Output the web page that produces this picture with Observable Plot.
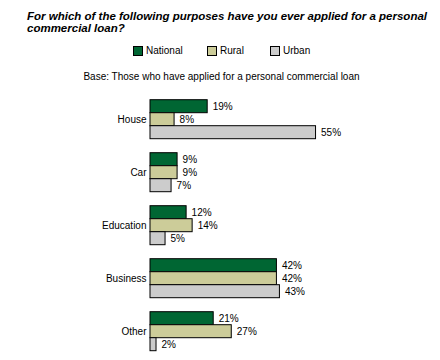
<!DOCTYPE html>
<html>
<head>
<meta charset="utf-8">
<script src="https://cdn.jsdelivr.net/npm/d3@7"></script>
<script src="https://cdn.jsdelivr.net/npm/@observablehq/plot@0.6"></script>
<style>
  html, body { margin: 0; padding: 0; background: #fff; }
  #wrap { position: relative; width: 440px; height: 360px; overflow: hidden; font-family: Arial, "Liberation Sans", sans-serif; color: #000; }
  .title { position: absolute; left: 27px; top: 10px; width: 405px; font-size: 11.5px; font-weight: bold; font-style: italic; line-height: 12px; }
  .legend { position: absolute; top: 45px; left: 0; font-size: 10px; }
  .item { position: absolute; white-space: nowrap; line-height: 12px; }
  .sw { position: absolute; top: 1px; width: 8px; height: 8px; border: 1px solid #000; }
  .base { position: absolute; top: 71px; left: 0; width: 443px; text-align: center; font-size: 10px; }
  #chart { position: absolute; left: 0; top: 88px; }
</style>
</head>
<body>
<div id="wrap">
  <div class="title">For which of the following purposes have you ever applied for a personal commercial loan?</div>
  <div class="legend" id="legend"></div>
  <div class="base">Base: Those who have applied for a personal commercial loan</div>
  <div id="chart"></div>
</div>
<script>
const categories = ["House", "Car", "Education", "Business", "Other"];
const series = ["National", "Rural", "Urban"];
const national = [19, 9, 12, 42, 21];
const rural = [8, 9, 14, 42, 27];
const urban = [55, 7, 5, 43, 2];
const colors = ["#006633", "#CCCC99", "#CCCCCC"];

const seriesValues = [national, rural, urban];
const data = categories.flatMap((c, i) => series.map((s, j) => ({cat: c, s, v: seriesValues[j][i]})));

// legend
const legendX = [133, 207, 270];
const legend = document.getElementById("legend");
series.forEach((s, j) => {
  const it = document.createElement("div");
  it.className = "item";
  it.style.left = legendX[j] + "px";
  it.style.top = "0px";
  it.innerHTML = `<span class="sw" style="left:0;background:${colors[j]}"></span><span style="position:absolute;left:13px;top:0">${s}</span>`;
  legend.appendChild(it);
});

const chart = Plot.plot({
  width: 440,
  height: 272,
  marginTop: 9.3,
  marginBottom: 5.7,
  marginLeft: 150,
  marginRight: 0,
  x: {domain: [0, 96.35], axis: null},
  y: {domain: series, padding: 0, axis: null},
  fy: {domain: categories, paddingInner: 0.22, paddingOuter: 0, axis: "left", label: null, tickSize: 0, tickPadding: 4},
  color: {domain: series, range: colors},
  style: {fontFamily: 'Arial, "Liberation Sans", sans-serif', fontSize: "10px", color: "#000", background: "white"},
  marks: [
    Plot.barX(data, {x: "v", y: "s", fy: "cat", fill: "s", stroke: "black", strokeWidth: 1}),
    Plot.text(data, {x: "v", y: "s", fy: "cat", text: d => d.v + "%", textAnchor: "start", dx: 5, fill: "black"})
  ]
});
document.getElementById("chart").appendChild(chart);
</script>
</body>
</html>
